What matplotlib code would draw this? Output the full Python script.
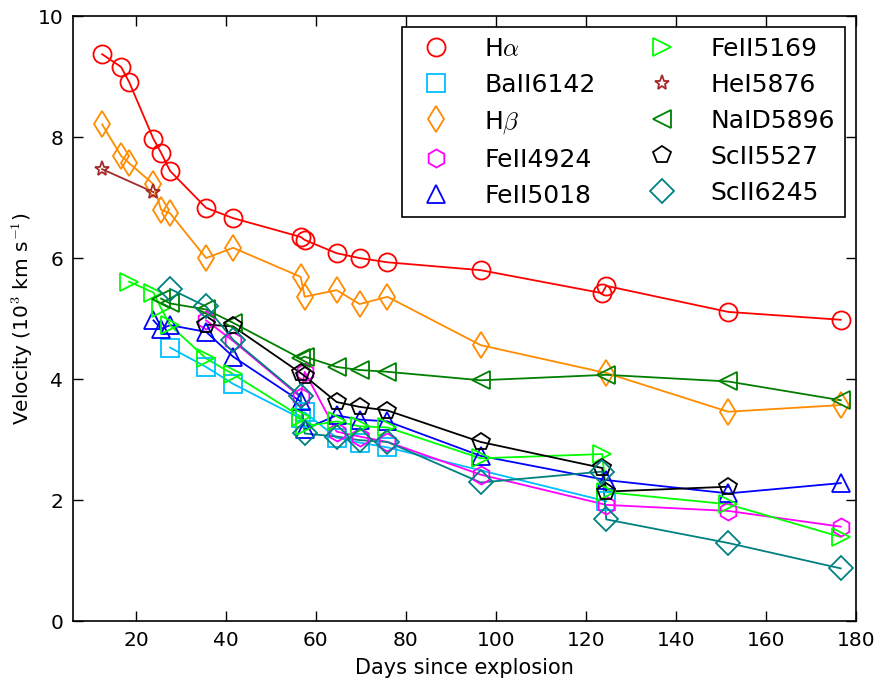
import matplotlib
matplotlib.use("Agg")
import matplotlib.pyplot as plt

plt.rcParams['mathtext.fontset'] = 'cm'
plt.rcParams['font.family'] = ['DejaVu Sans']

# ---- data ----
ha_days = [12.5, 16.7, 18.5, 23.9, 25.6, 27.6, 35.6, 41.6, 56.6, 57.5, 64.6, 69.7, 75.9, 96.6, 123.6, 124.5, 151.6, 176.6]
ha_vel = [9.37, 9.16, 8.91, 7.97, 7.74, 7.44, 6.83, 6.66, 6.35, 6.30, 6.08, 6.00, 5.93, 5.80, 5.42, 5.54, 5.11, 4.98]

ba_days = [27.6, 35.6, 41.6, 56.6, 57.5, 64.6, 69.7, 75.9, 124.5]
ba_vel = [4.52, 4.20, 3.92, 3.35, 3.45, 3.03, 2.95, 2.87, 1.98]

hb_days = [12.5, 16.7, 18.5, 23.9, 25.6, 27.6, 35.6, 41.6, 56.6, 57.5, 64.6, 69.7, 75.9, 96.6, 124.5, 151.6, 176.6]
hb_vel = [8.21, 7.69, 7.57, 7.22, 6.80, 6.74, 6.00, 6.17, 5.69, 5.36, 5.47, 5.24, 5.36, 4.56, 4.10, 3.46, 3.57]

fe4924_days = [35.6, 41.6, 56.6, 57.5, 64.6, 69.7, 75.9, 96.6, 124.5, 151.6, 176.6]
fe4924_vel = [4.97, 4.63, 3.70, 4.12, 3.13, 3.05, 2.96, 2.42, 1.92, 1.82, 1.56]

fe5018_days = [23.9, 25.6, 27.6, 35.6, 41.6, 56.6, 57.5, 64.6, 69.7, 75.9, 96.6, 124.5, 151.6, 176.6]
fe5018_vel = [4.97, 4.83, 4.89, 4.78, 4.37, 3.63, 3.17, 3.40, 3.33, 3.30, 2.73, 2.33, 2.11, 2.28]

fe5169_days = [18.5, 23.9, 25.6, 27.6, 35.6, 41.6, 56.6, 57.5, 64.6, 69.7, 75.9, 96.6, 123.6, 124.5, 151.6, 176.6]
fe5169_vel = [5.61, 5.43, 5.17, 4.89, 4.34, 4.08, 3.38, 3.22, 3.30, 3.22, 3.20, 2.69, 2.76, 2.13, 1.93, 1.39]

he_days = [12.5, 23.9]
he_vel = [7.47, 7.09]

na_days = [25.6, 27.6, 35.6, 41.6, 56.6, 57.5, 64.6, 69.7, 75.9, 96.6, 124.5, 151.6, 176.6]
na_vel = [5.33, 5.25, 5.15, 4.93, 4.34, 4.37, 4.20, 4.15, 4.12, 3.98, 4.07, 3.96, 3.65]

sc5527_days = [35.6, 41.6, 56.6, 57.5, 64.6, 69.7, 75.9, 96.6, 123.6, 124.5, 151.6]
sc5527_vel = [4.90, 4.87, 4.10, 4.05, 3.62, 3.54, 3.48, 2.96, 2.53, 2.14, 2.22]

sc6245_days = [27.6, 35.6, 41.6, 56.6, 57.5, 64.6, 69.7, 75.9, 96.6, 123.6, 124.5, 151.6, 176.6]
sc6245_vel = [5.49, 5.20, 4.65, 3.72, 3.10, 3.05, 2.99, 2.96, 2.29, 2.47, 1.68, 1.29, 0.87]

series = [
    (r'H$\alpha$', ha_days, ha_vel, 'o', 'red'),
    ('BaII6142', ba_days, ba_vel, 's', '#00BFFF'),
    (r'H$\beta$', hb_days, hb_vel, 'd', 'darkorange'),
    ('FeII4924', fe4924_days, fe4924_vel, 'h', 'magenta'),
    ('FeII5018', fe5018_days, fe5018_vel, '^', 'blue'),
    ('FeII5169', fe5169_days, fe5169_vel, '>', 'lime'),
    ('HeI5876', he_days, he_vel, '*', 'brown'),
    ('NaID5896', na_days, na_vel, '<', 'green'),
    ('ScII5527', sc5527_days, sc5527_vel, 'p', 'black'),
    ('ScII6245', sc6245_days, sc6245_vel, 'D', 'teal'),
]

fig = plt.figure(figsize=(8.78, 6.82), dpi=100)
ax = fig.add_axes([0.083, 0.0894, 0.892, 0.887])

for label, d, v, m, c in series:
    ms = 11 if m == '*' else 13
    if m == 'D':
        ms = 12.5
    ax.plot(d, v, '-', color=c, lw=1.3, zorder=2)
    ax.plot(d, v, m, ls='none', mfc='none', mec=c, mew=1.3, ms=ms,
            label=label, zorder=3)

ax.set_xlim(6, 180)
ax.set_ylim(0, 10)
ax.set_xticks([20, 40, 60, 80, 100, 120, 140, 160, 180])
ax.set_yticks([0, 2, 4, 6, 8, 10])
ax.tick_params(direction='in', top=True, right=True, length=7, width=1,
               labelsize=14.5, pad=7)
for s in ax.spines.values():
    s.set_linewidth(1.2)

ax.set_xlabel('Days since explosion', fontsize=15, labelpad=6)
ax.set_ylabel(r'Velocity (10$^3$ km s$^{-1}$)', fontsize=14.5, labelpad=2)

leg = ax.legend(loc='upper right', ncol=2, numpoints=1, fontsize=18,
                fancybox=False, frameon=True, edgecolor='black',
                handlelength=1.9, handletextpad=1.0, columnspacing=1.7,
                labelspacing=0.48, borderpad=0.38, borderaxespad=0.45)
leg.get_frame().set_linewidth(1.2)
leg.get_frame().set_alpha(1)

fig.savefig('out.png', dpi=100)
